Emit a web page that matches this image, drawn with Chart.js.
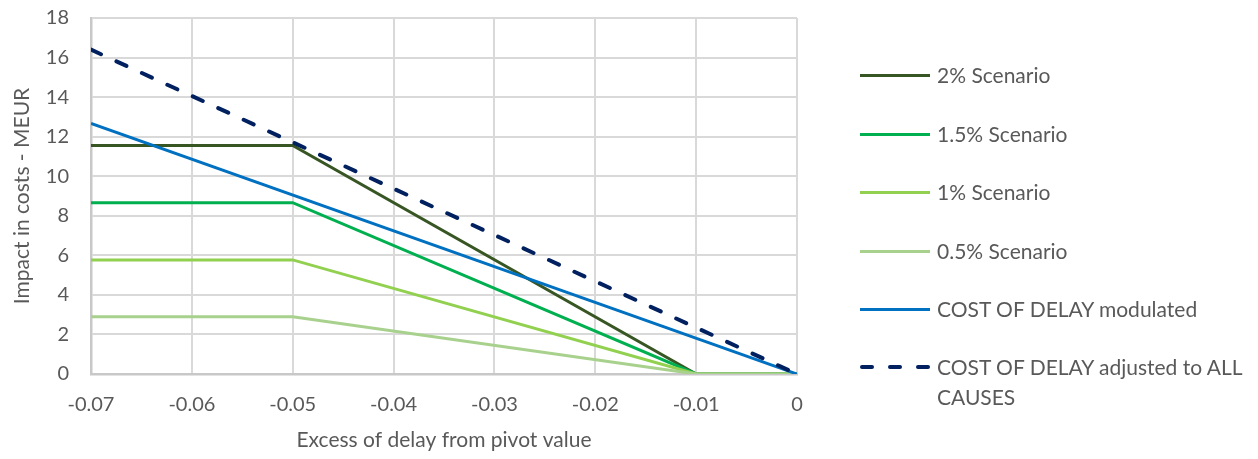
<!DOCTYPE html>
<html>
<head>
<meta charset="utf-8">
<script src="https://cdn.jsdelivr.net/npm/chart.js@4/dist/chart.umd.min.js"></script>
<style>
  html, body { margin: 0; padding: 0; background: #fff; }
  #wrap { position: relative; width: 1258px; height: 459px; }
  #c { position: absolute; left: 0; top: 0; }
  #legend { position: absolute; left: 860px; top: 0; font-family: Lato, "Open Sans", sans-serif; font-size: 21px; color: #595959; }
  .item { position: absolute; left: 0; width: 400px; }
  .swatch { position: absolute; left: 0; width: 70px; height: 3px; }
  .dash { position: absolute; top: 0; width: 14px; height: 4px; border-radius: 2px; }
  .lbl { position: absolute; left: 77px; line-height: 30px; white-space: nowrap; }
</style>
</head>
<body>
<div id="wrap">
  <canvas id="c" width="1258" height="459"></canvas>
  <div id="legend"></div>
</div>
<script>
// ---- data ----
const seriesNames = ['2% Scenario', '1.5% Scenario', '1% Scenario', '0.5% Scenario', 'COST OF DELAY modulated', 'COST OF DELAY adjusted to ALL CAUSES'];
const scenarioX = [-0.07, -0.05, -0.01, 0];
const scen2 = [11.55, 11.55, 0, 0];
const scen15 = [8.66, 8.66, 0, 0];
const scen1 = [5.77, 5.77, 0, 0];
const scen05 = [2.89, 2.89, 0, 0];
const costX = [-0.07, 0];
const costModulated = [12.67, 0];
const costAdjusted = [16.4, 0];
const xTickValues = [-0.07, -0.06, -0.05, -0.04, -0.03, -0.02, -0.01, 0];
const xTickLabels = ['-0.07', '-0.06', '-0.05', '-0.04', '-0.03', '-0.02', '-0.01', '0'];
const yTickLabels = ['0', '2', '4', '6', '8', '10', '12', '14', '16', '18'];

const colors = ['#375623', '#00B050', '#92D050', '#A9D18E', '#0070C0', '#002060'];

function pts(xs, ys) { return xs.map((x, i) => ({ x: x, y: ys[i] })); }

const datasets = [
  { label: seriesNames[0], data: pts(scenarioX, scen2), borderColor: colors[0] },
  { label: seriesNames[1], data: pts(scenarioX, scen15), borderColor: colors[1] },
  { label: seriesNames[2], data: pts(scenarioX, scen1), borderColor: colors[2] },
  { label: seriesNames[3], data: pts(scenarioX, scen05), borderColor: colors[3] },
  { label: seriesNames[4], data: pts(costX, costModulated), borderColor: colors[4] },
  { label: seriesNames[5], data: pts(costX, costAdjusted), borderColor: colors[5], borderDash: [11, 17], borderWidth: 4, borderCapStyle: 'round' }
].map(d => Object.assign({ borderWidth: 3, pointRadius: 0, fill: false, tension: 0, showLine: true, borderCapStyle: 'butt' }, d));

datasets.forEach((d, i) => d.order = 6 - i);

const font = { family: 'Lato, "Open Sans", sans-serif', size: 20 };
const titleFont = { family: 'Lato, "Open Sans", sans-serif', size: 21 };

new Chart(document.getElementById('c'), {
  type: 'scatter',
  data: { datasets: datasets },
  options: {
    responsive: false,
    animation: false,
    layout: { padding: { left: 0, right: 461, top: 0, bottom: 0 } },
    plugins: { legend: { display: false }, tooltip: { enabled: false } },
    scales: {
      x: {
        type: 'linear', min: -0.07, max: 0,
        afterBuildTicks: (axis) => { axis.ticks = xTickValues.map(v => ({ value: v })); },
        afterFit: (axis) => { axis.height = 85; },
        ticks: { font: font, color: '#595959', padding: 19,
          callback: (v) => { const i = xTickValues.findIndex(t => Math.abs(t - v) < 1e-9); return i >= 0 ? xTickLabels[i] : ''; } },
        grid: { color: '#D9D9D9', lineWidth: 2, drawTicks: false },
        border: { color: '#C8C8C8', width: 2.5 },
        title: { display: true, text: 'Excess of delay from pivot value', font: titleFont, color: '#595959', padding: { top: 0, bottom: 6 } }
      },
      y: {
        type: 'linear', min: 0, max: 18,
        afterFit: (axis) => { axis.width = 91; axis.paddingTop = 18; axis.paddingBottom = 0; },
        ticks: { stepSize: 2, font: font, color: '#595959', padding: 22,
          callback: (v) => yTickLabels[Math.round(v / 2)] },
        grid: { color: '#D9D9D9', lineWidth: 2, drawTicks: false },
        border: { color: '#C8C8C8', width: 2.5 },
        title: { display: true, text: 'Impact in costs - MEUR', font: titleFont, color: '#595959', padding: { top: 10, bottom: 0 } }
      }
    }
  }
});

// ---- HTML legend ----
const legendRows = [75, 134, 192, 251, 309, 367];
const legend = document.getElementById('legend');
seriesNames.forEach((name, i) => {
  const item = document.createElement('div');
  item.className = 'item';
  item.style.top = legendRows[i] + 'px';
  const sw = document.createElement('div');
  sw.className = 'swatch';
  sw.style.top = '-1.5px';
  if (i === 5) {
    sw.style.top = '-2px';
    [0, 28, 56].forEach(x => {
      const d = document.createElement('div');
      d.className = 'dash';
      d.style.left = x + 'px';
      d.style.background = colors[i];
      sw.appendChild(d);
    });
  } else {
    sw.style.background = colors[i];
  }
  const lbl = document.createElement('div');
  lbl.className = 'lbl';
  lbl.style.top = '-15px';
  if (i === 5) {
    lbl.style.whiteSpace = 'normal';
    lbl.style.width = '330px';
  }
  lbl.textContent = name;
  item.appendChild(sw);
  item.appendChild(lbl);
  legend.appendChild(item);
});
</script>
</body>
</html>
